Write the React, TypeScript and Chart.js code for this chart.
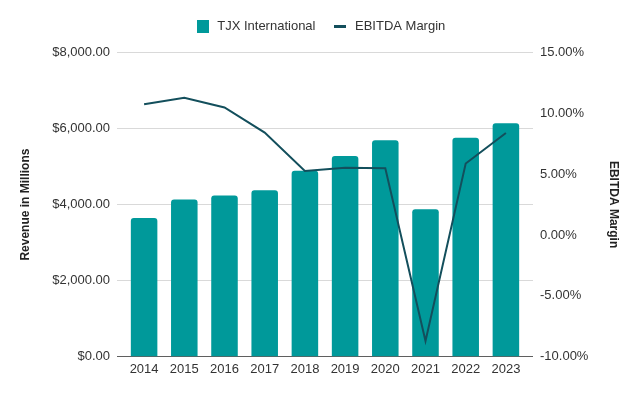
import React, { useEffect, useRef } from 'react';
import { Chart, registerables } from 'chart.js';

Chart.register(...registerables);

const years = ['2014', '2015', '2016', '2017', '2018', '2019', '2020', '2021', '2022', '2023'];
const revenue = [3650, 4135, 4240, 4380, 4888, 5275, 5695, 3875, 5755, 6140];
const ebitdaMargin = [10.75, 11.27, 10.48, 8.42, 5.27, 5.52, 5.49, -8.71, 5.88, 8.39];
const revenueTicks = [0, 2000, 4000, 6000, 8000];
const marginTicks = [-10, -5, 0, 5, 10, 15];
const seriesNames = ['TJX International', 'EBITDA Margin'];
const axisTitles = ['Revenue in Millions', 'EBITDA Margin'];

const TEAL = '#00999a';
const DARK = '#134f5c';
const GRID = '#d9d9d9';
const BASE = '#5f5f5f';
const FONT = "'Liberation Sans', Arial, sans-serif";

function makeIcon(w: number, h: number, color: string) {
  const c = document.createElement('canvas');
  c.width = w;
  c.height = h;
  const g = c.getContext('2d')!;
  g.fillStyle = color;
  g.fillRect(0, 0, w, h);
  return c;
}

export default function App() {
  const ref = useRef<HTMLCanvasElement | null>(null);

  useEffect(() => {
    if (!ref.current) return;
    const boxIcon = makeIcon(12, 13, TEAL);
    const lineIcon = makeIcon(12, 3, DARK);

    const legendMargin = {
      id: 'legendMargin',
      beforeInit(chart: any) {
        const orig = chart.legend.fit;
        chart.legend.fit = function () {
          orig.bind(chart.legend)();
          this.height += 10;
        };
      },
    };

    // extend the left-axis grid lines a few pixels past the right edge of the plot
    const gridExtend = {
      id: 'gridExtend',
      beforeDatasetsDraw(chart: any) {
        const s = chart.scales.y;
        const { right } = chart.chartArea;
        const ctx = chart.ctx;
        ctx.save();
        ctx.lineWidth = 1;
        s.ticks.forEach((t: any) => {
          const p = s.getPixelForValue(t.value);
          const y = Math.round(p - 0.5) + 0.5;
          ctx.strokeStyle = t.value === 0 ? BASE : GRID;
          ctx.beginPath();
          ctx.moveTo(right, y);
          ctx.lineTo(right + 7, y);
          ctx.stroke();
        });
        ctx.restore();
      },
    };

    const chart = new Chart(ref.current, {
      type: 'bar',
      data: {
        labels: years,
        datasets: [
          {
            type: 'bar',
            label: seriesNames[0],
            data: revenue,
            backgroundColor: TEAL,
            borderRadius: 3,
            barPercentage: 0.66,
            categoryPercentage: 1,
            yAxisID: 'y',
            order: 2,
          },
          {
            type: 'line',
            label: seriesNames[1],
            data: ebitdaMargin,
            borderColor: DARK,
            backgroundColor: DARK,
            borderWidth: 2,
            pointRadius: 0,
            tension: 0,
            yAxisID: 'y1',
            order: 1,
          } as any,
        ],
      },
      options: {
        responsive: false,
        animation: false,
        layout: { padding: { top: 2.5, left: 0, right: 0, bottom: 0 } },
        font: { family: FONT },
        plugins: {
          tooltip: { enabled: false },
          legend: {
            position: 'top',
            align: 'center',
            labels: {
              usePointStyle: true,
              pointStyleWidth: 16,
              padding: 17,
              color: '#333',
              font: { family: FONT, size: 13 },
              generateLabels: () => [
                {
                  text: seriesNames[0],
                  pointStyle: boxIcon as any,
                  fillStyle: TEAL,
                  strokeStyle: TEAL,
                  lineWidth: 0,
                  hidden: false,
                  datasetIndex: 0,
                  fontColor: '#333',
                },
                {
                  text: seriesNames[1],
                  pointStyle: lineIcon as any,
                  fillStyle: DARK,
                  strokeStyle: DARK,
                  lineWidth: 0,
                  hidden: false,
                  datasetIndex: 1,
                  fontColor: '#333',
                },
              ],
            },
          },
        },
        scales: {
          x: {
            type: 'category',
            offset: true,
            grid: { display: false, drawTicks: false },
            border: { display: false },
            ticks: { color: '#333', font: { family: FONT, size: 13 }, padding: 5, maxRotation: 0 },
            afterFit: (s: any) => {
              s.height = 39.3;
            },
          },
          y: {
            position: 'left',
            min: 0,
            max: 8000,
            afterBuildTicks: (s: any) => {
              s.ticks = revenueTicks.map((v) => ({ value: v }));
            },
            grid: {
              color: (ctx: any) => (ctx.tick && ctx.tick.value === 0 ? BASE : GRID),
              drawTicks: true,
              tickLength: 7,
            },
            border: { display: false },
            ticks: {
              color: '#333',
              padding: 7,
              font: { family: FONT, size: 13 },
              callback: (v: any) =>
                '$' + Number(v).toLocaleString('en-US', { minimumFractionDigits: 2, maximumFractionDigits: 2 }),
            },
            title: {
              display: true,
              text: axisTitles[0],
              color: '#222',
              font: { family: FONT, size: 12, weight: 'bold' },
              padding: { top: 18, bottom: 4 },
            },
            afterFit: (s: any) => {
              s.width = 124;
            },
          },
          y1: {
            position: 'right',
            min: -10,
            max: 15,
            afterBuildTicks: (s: any) => {
              s.ticks = marginTicks.map((v) => ({ value: v }));
            },
            grid: { display: false, drawOnChartArea: false, drawTicks: false },
            border: { display: false },
            ticks: {
              color: '#333',
              padding: 14,
              font: { family: FONT, size: 13 },
              callback: (v: any) => Number(v).toFixed(2) + '%',
            },
            title: {
              display: true,
              text: axisTitles[1],
              color: '#222',
              font: { family: FONT, size: 12, weight: 'bold' },
              padding: { top: 19, bottom: 4 },
            },
            afterFit: (s: any) => {
              s.width = 114;
            },
          },
        },
      },
      plugins: [legendMargin, gridExtend],
    } as any);

    return () => chart.destroy();
  }, []);

  return (
    <div style={{ position: 'absolute', left: 0, top: 0, width: 640, height: 396, background: '#fff' }}>
      <canvas ref={ref} width={640} height={396} style={{ display: 'block' }} />
    </div>
  );
}
